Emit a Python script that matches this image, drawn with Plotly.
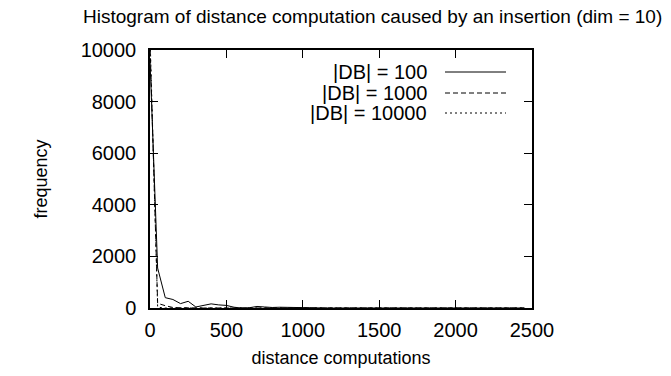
import plotly.graph_objects as go

# bin positions (distance computations)
distance = [0, 50, 100, 150, 200, 250, 300, 350, 400, 450,
            500, 550, 600, 650, 700, 750, 800, 850, 900, 950,
            1000, 1050, 1100, 1150, 1200, 1250, 1300, 1350, 1400, 1450,
            1500, 1550, 1600, 1650, 1700, 1750, 1800, 1850, 1900, 1950,
            2000, 2050, 2100, 2150, 2200, 2250, 2300, 2350, 2400, 2450]

freq_db100 = [9600, 1550, 400, 330, 170, 260, 40, 110, 160, 120,
              100, 30, 0, 10, 60, 40, 20, 30, 20, 10,
              0, 0, 0, 0, 0, 0, 0, 0, 0, 0,
              0, 0, 0, 0, 0, 0, 0, 0, 0, 0,
              0, 0, 0, 0, 0, 20, 20, 10, 0, 0]

freq_db1000 = [10300, 180, 90, 20, 10, 0, 0, 0, 0, 0,
               0, 0, 0, 0, 0, 0, 0, 0, 0, 0,
               0, 0, 0, 0, 0, 0, 0, 0, 0, 0,
               0, 0, 0, 0, 0, 0, 0, 0, 0, 0,
               0, 0, 0, 0, 0, 0, 0, 0, 0, 0]

freq_db10000 = [10600, 30, 0, 0, 0, 0, 0, 0, 0, 0,
                0, 0, 0, 0, 0, 0, 0, 0, 0, 0,
                0, 0, 0, 0, 0, 0, 0, 0, 0, 0,
                0, 0, 0, 0, 0, 0, 0, 0, 0, 0,
                0, 0, 0, 0, 0, 0, 0, 0, 0, 0]

series_names = ["|DB| = 100", "|DB| = 1000", "|DB| = 10000"]
series_dash = ["solid", "5px,3px", "2px,3px"]
x_ticks = [0, 500, 1000, 1500, 2000, 2500]
x_tick_labels = ["0", "500", "1000", "1500", "2000", "2500"]
y_ticks = [0, 2000, 4000, 6000, 8000, 10000]
y_tick_labels = ["0", "2000", "4000", "6000", "8000", "10000"]

FONT = "Liberation Sans, Arial, sans-serif"
FS_TITLE = 19
FS_TICK = 20
FS_LEGEND = 20
FS_AXIS = 18

fig = go.Figure()
for name, ys, dash in zip(series_names, [freq_db100, freq_db1000, freq_db10000], series_dash):
    fig.add_trace(go.Scatter(x=distance, y=ys, mode="lines", name=name,
                             line=dict(color="black", width=1, dash=dash),
                             showlegend=False))

W, H = 671, 376
L, R, T, B = 150, 139, 50, 68
pw, ph = W - L - R, H - T - B

def px(xp):
    return (xp - L) / pw

def py(yp):
    return 1 - (yp - T) / ph

annotations = [
    dict(text="Histogram of distance computation caused by an insertion (dim = 10)",
         xref="paper", yref="paper", x=px(372), y=py(16), xanchor="center", yanchor="middle",
         showarrow=False, font=dict(size=FS_TITLE, color="black", family=FONT)),
]
shapes = []
legend_rows = [72, 93, 113]
for name, dash, yrow in zip(series_names, series_dash, legend_rows):
    annotations.append(dict(text=name, xref="paper", yref="paper", x=px(429), y=py(yrow),
                            xanchor="right", yanchor="middle", showarrow=False,
                            font=dict(size=FS_LEGEND, color="black", family=FONT)))
    shapes.append(dict(type="line", xref="paper", yref="paper",
                       x0=px(445), x1=px(506), y0=py(yrow), y1=py(yrow),
                       line=dict(color="black", width=1, dash=dash)))

axis_common = dict(showgrid=False, zeroline=False, showline=True, linecolor="black",
                   linewidth=1.5, mirror="ticks", ticks="inside", ticklen=8,
                   tickwidth=1, tickcolor="black",
                   tickfont=dict(size=FS_TICK, color="black", family=FONT))

fig.update_layout(
    width=W, height=H,
    margin=dict(l=L, r=R, t=T, b=B),
    plot_bgcolor="white", paper_bgcolor="white",
    font=dict(family=FONT, size=FS_TICK, color="black"),
    xaxis=dict(range=[0, 2500], tickvals=x_ticks, ticktext=x_tick_labels,
               ticklabelstandoff=3,
               title=dict(text="distance computations", standoff=12,
                          font=dict(size=FS_AXIS, color="black", family=FONT)),
               **axis_common),
    yaxis=dict(range=[0, 10000], tickvals=y_ticks, ticktext=y_tick_labels,
               ticklabelstandoff=8,
               title=dict(text="frequency", standoff=28,
                          font=dict(size=FS_AXIS, color="black", family=FONT)),
               **axis_common),
    annotations=annotations,
    shapes=shapes,
)

fig.write_html("out.html", config={"displayModeBar": False},
               post_script="document.body.style.margin='0';")
